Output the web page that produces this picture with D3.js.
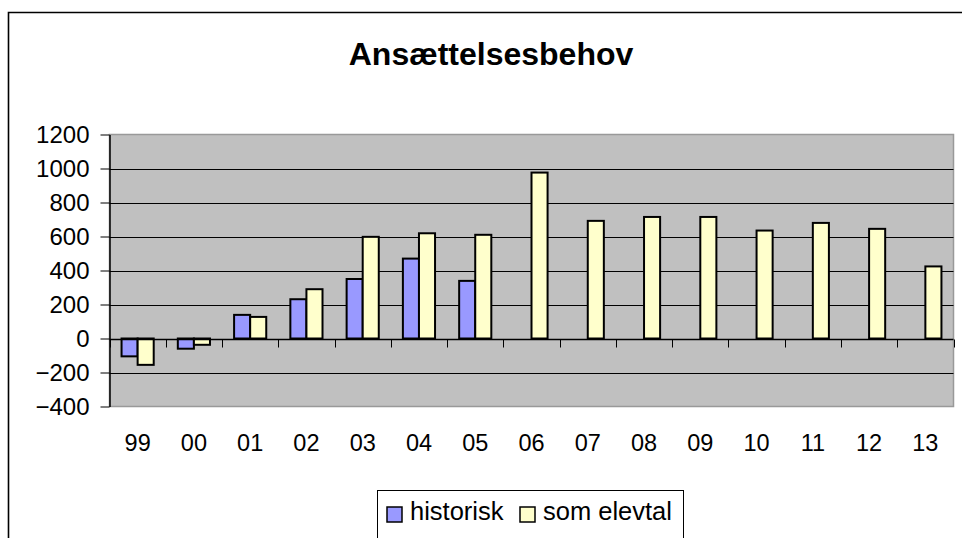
<!DOCTYPE html>
<html>
<head>
<meta charset="utf-8">
<script src="https://cdn.jsdelivr.net/npm/d3@7"></script>
<style>
  html, body { margin: 0; padding: 0; background: #fff; }
  svg { display: block; font-family: "Liberation Sans", Arial, sans-serif; }
</style>
</head>
<body>
<svg id="chart" width="962" height="538"></svg>
<script>
const title = "Ansættelsesbehov";
const categories = ["99","00","01","02","03","04","05","06","07","08","09","10","11","12","13"];
const seriesNames = ["historisk", "som elevtal"];
const historisk = [-105, -60, 139, 231, 350, 470, 339, null, null, null, null, null, null, null, null];
const somElevtal = [-155, -37, 127, 290, 598, 619, 610, 976, 692, 715, 715, 635, 680, 645, 424];
const yTicks = [-400, -200, 0, 200, 400, 600, 800, 1000, 1200];
const colors = ["#9999FF", "#FFFFCC"];

const svg = d3.select("#chart");
const plot = {left: 109.5, right: 953.5, top: 134.5, bottom: 406.5};

// outer chart frame
svg.append("path").attr("d", `M8.5,538 V12.5 H962`).attr("fill", "none").attr("stroke", "#000").attr("stroke-width", 1.6);

svg.append("text").attr("x", 491).attr("y", 65).attr("text-anchor", "middle")
  .attr("font-size", 32).attr("font-weight", "bold").text(title);

const x = d3.scaleBand().domain(categories).range([plot.left, plot.right]).paddingInner(0).paddingOuter(0);
const xs = d3.scaleBand().domain(seriesNames).range([0, x.bandwidth()]).paddingInner(0).paddingOuter(0.75);
const y = d3.scaleLinear().domain([-400, 1200]).range([plot.bottom, plot.top]);

// plot area
svg.append("rect").attr("x", plot.left).attr("y", plot.top)
  .attr("width", plot.right - plot.left).attr("height", plot.bottom - plot.top)
  .attr("fill", "#C0C0C0").attr("stroke", "#999").attr("stroke-width", 1.5);

// gridlines
svg.append("g").selectAll("line").data(yTicks.filter(t => t > -400 && t < 1200 && t !== 0)).join("line")
  .attr("x1", plot.left).attr("x2", plot.right)
  .attr("y1", d => Math.round(y(d)) + 0.5).attr("y2", d => Math.round(y(d)) + 0.5)
  .attr("stroke", "#000").attr("stroke-width", 1);

// bars
const data = [historisk, somElevtal];
data.forEach((vals, si) => {
  svg.append("g").selectAll("rect").data(categories.map((c, i) => ({c, v: vals[i]})).filter(d => d.v !== null)).join("rect")
    .attr("x", d => x(d.c) + xs(seriesNames[si]))
    .attr("width", xs.bandwidth())
    .attr("y", d => y(Math.max(0, d.v)))
    .attr("height", d => Math.abs(y(d.v) - y(0)))
    .attr("fill", colors[si]).attr("stroke", "#000").attr("stroke-width", 2);
});

// y axis
const yAxis = svg.append("g").attr("transform", `translate(${plot.left},0)`)
  .call(d3.axisLeft(y).tickValues(yTicks).tickSize(9).tickPadding(11).tickSizeOuter(0).tickFormat(d3.format("d")));
yAxis.select(".domain").attr("stroke", "#000").attr("stroke-width", 1.5);
yAxis.selectAll("text").attr("font-size", 24).attr("fill", "#000").attr("font-family", "Liberation Sans, Arial, sans-serif");

// x axis at zero
const y0 = Math.round(y(0)) + 0.5;
svg.append("line").attr("x1", plot.left).attr("x2", plot.right).attr("y1", y0).attr("y2", y0)
  .attr("stroke", "#000").attr("stroke-width", 1.5);
const bounds = categories.map(c => x(c)).concat([x(categories[categories.length - 1]) + x.bandwidth()]);
svg.append("g").selectAll("line").data(bounds).join("line")
  .attr("x1", d => Math.round(d) + 0.5).attr("x2", d => Math.round(d) + 0.5)
  .attr("y1", y0).attr("y2", y0 + 8).attr("stroke", "#000").attr("stroke-width", 1);
svg.append("g").selectAll("text").data(categories).join("text")
  .attr("x", d => x(d) + x.bandwidth() / 2).attr("y", 451)
  .attr("text-anchor", "middle").attr("font-size", 23.5).text(d => d);

// legend
const lg = svg.append("g");
lg.append("rect").attr("x", 377.5).attr("y", 490.5).attr("width", 306).attr("height", 70)
  .attr("fill", "#fff").attr("stroke", "#000").attr("stroke-width", 1);
const legendItems = [{name: seriesNames[0], sx: 387, tx: 410}, {name: seriesNames[1], sx: 520, tx: 543}];
legendItems.forEach((it, i) => {
  lg.append("rect").attr("x", it.sx).attr("y", 507).attr("width", 15).attr("height", 15)
    .attr("fill", colors[i]).attr("stroke", "#000").attr("stroke-width", 1.5);
  lg.append("text").attr("x", it.tx).attr("y", 520).attr("font-size", 25.5).text(it.name);
});
</script>
</body>
</html>
